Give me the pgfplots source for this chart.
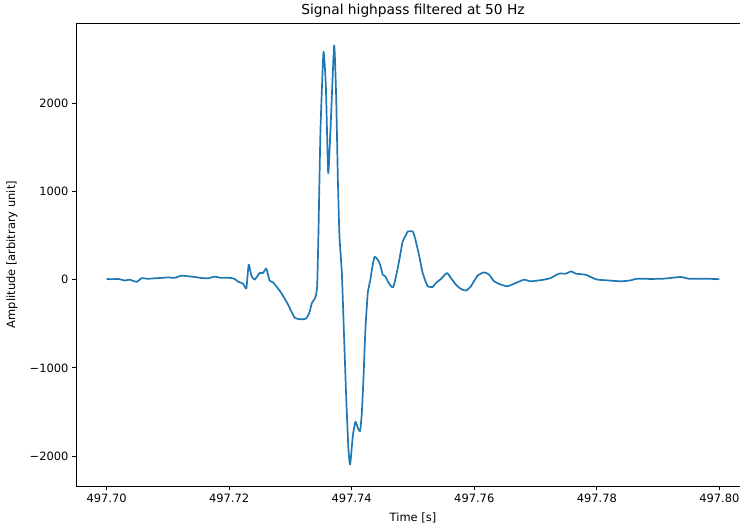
\documentclass[border=0pt]{standalone}
\usepackage{fontspec}
\setmainfont{DejaVu Sans}
\usepackage{pgfplots}
\pgfplotsset{compat=1.18}
\usepackage{pgfplotstable}

% Time is stored in ms after 497.70 s (t - 497.70 s), amplitude in arbitrary units
\pgfplotstableread{
ms amp
0 8
0.81 5
1.95 8
2.93 -10
3.75 0
4.89 -25
5.70 15
6.84 10
7.82 15
8.96 20
10.10 26
11.07 20
12.21 45
13.36 38
14.33 30
15.47 19
16.61 15
17.59 34
18.73 20
19.87 22
20.85 10
21.45 -23
22.26 -45
22.80 -100
23.18 170
23.62 45
24.15 0
24.97 75
25.52 75
26.06 125
26.60 -10
27.15 -30
27.85 -90
28.50 -150
29.59 -280
30.67 -430
31.76 -450
32.57 -440
33.11 -370
33.50 -264
34.04 -207
34.36 -75
34.58 565
34.90 1695
35.39 2580
35.78 2185
36.16 1206
36.53 1695
37.13 2655
37.46 2070
37.74 1130
38.00 490
38.39 75
38.71 -565
39.09 -1320
39.46 -1920
39.74 -2095
40.18 -1770
40.60 -1610
40.99 -1680
41.37 -1715
41.65 -1510
41.91 -1130
42.23 -565
42.62 -150
43.05 0
43.24 90
43.70 256
44.25 226
44.63 170
45.07 56
45.49 37
45.88 -19
46.42 -75
46.79 -83
47.23 37
47.77 226
48.32 433
48.86 508
49.14 546
49.95 546
50.33 471
51.03 264
51.58 75
52.39 -75
53.21 -83
53.75 -38
54.56 8
55.54 75
56.19 19
57.00 -56
57.82 -105
58.63 -124
59.45 -75
60.54 45
61.61 83
62.43 56
63.24 -19
64.33 -56
65.42 -75
66.78 -38
68.13 0
69.22 -19
71.38 0
72.48 19
73.83 68
74.92 68
75.85 94
76.55 68
78.18 56
78.99 30
80.08 0
81.71 -8
83.88 -19
85.50 -8
86.60 11
88.76 8
90.93 11
93.65 30
95.00 11
96.91 11
99.07 8
100 5
}\signal

\definecolor{mplblue}{HTML}{1F77B4}

\begin{document}
\begin{tikzpicture}
\begin{axis}[
  scale only axis,
  width=674bp, height=463bp,
  xmin=-5, xmax=105,
  ymin=-2338.5, ymax=2908.5,
  axis line style={black, line width=0.9bp},
  tick pos=left,
  tick align=outside,
  major tick length=4bp,
  every tick/.style={black, line width=0.9bp},
  xtick={0,20,40,60,80,100},
  xticklabels={497.70,497.72,497.74,497.76,497.78,497.80},
  ytick={-2000,-1000,0,1000,2000},
  yticklabels={−2000,−1000,0,1000,2000},
  ticklabel style={font=\fontsize{11.5}{13.5}\selectfont, text=black},
  xlabel={Time [s]},
  ylabel={Amplitude [arbitrary unit]},
  title={Signal highpass filtered at 50 Hz},
  every axis x label/.style={at={(axis description cs:0.5,0)}, anchor=center, yshift=-31.5bp, font=\fontsize{11.5}{13.5}\selectfont},
  every axis y label/.style={at={(axis description cs:0,0.5)}, xshift=-64bp, rotate=90, anchor=center, font=\fontsize{11.5}{13.5}\selectfont},
  every axis title/.style={at={(axis description cs:0.5,1)}, anchor=center, yshift=12.5bp, font=\fontsize{13.8}{16}\selectfont},
]
\addplot[mplblue, line width=1.7bp, line join=round, smooth, tension=0.3] table[x=ms, y=amp] {\signal};
\end{axis}
\pgfresetboundingbox
\useasboundingbox ([xshift=-76bp, yshift=-44bp]current axis.south west) rectangle ([xshift=-10bp, yshift=23bp]current axis.north east);
\end{tikzpicture}
\end{document}
